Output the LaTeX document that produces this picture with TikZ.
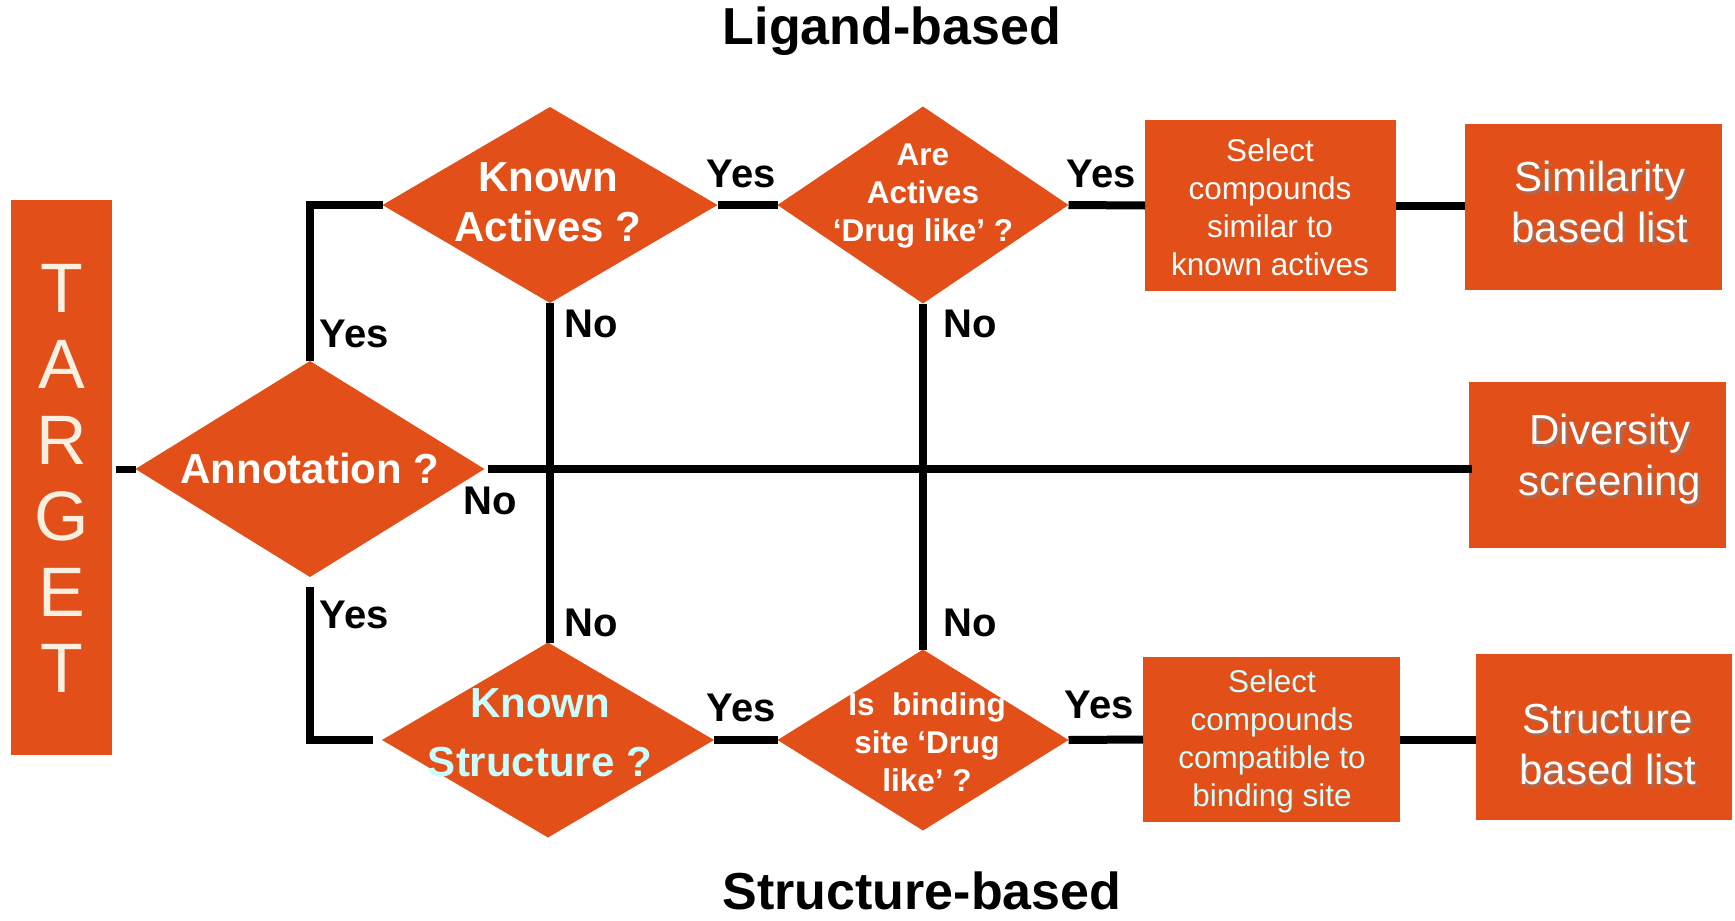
\documentclass[tikz,border=0pt]{standalone}
\usepackage{fontspec}
\setmainfont{Liberation Sans}
\usetikzlibrary{shapes.geometric}
\definecolor{flame}{RGB}{226,79,24}
\definecolor{cream}{RGB}{250,240,226}
\definecolor{icecyan}{RGB}{204,255,255}

\begin{document}
\begin{tikzpicture}[x=1pt,y=-1pt,
  box/.style={rectangle, fill=flame, draw=none, inner sep=0pt, outer sep=0pt},
  decision/.style={diamond, fill=flame, draw=none, inner sep=0pt, outer sep=0pt},
  conn/.style={line width=8pt, black},
  mainline/.style={line width=8.5pt, black},
  answer/.style={inner sep=0pt, font=\fontsize{40}{48}\selectfont\bfseries},
  title/.style={inner sep=0pt, font=\fontsize{52}{60}\selectfont\bfseries},
  bigq/.style={align=center, inner sep=0pt, text=white, font=\fontsize{42}{50}\selectfont\bfseries},
  smallq/.style={align=center, inner sep=0pt, text=white, font=\fontsize{31.5}{38}\selectfont\bfseries},
  steptext/.style={align=center, inner sep=0pt, text=white, font=\fontsize{31.5}{38}\selectfont},
  outtext/.style={align=center, inner sep=0pt, text=white, font=\fontsize{42}{51}\selectfont},
  outshadow/.style={align=center, inner sep=0pt, text=black!50, opacity=0.55, font=\fontsize{42}{51}\selectfont},
]
\useasboundingbox (0,0) rectangle (1735,921);

% titles
\node[title] (ligtitle) at (892,31) {Ligand-based};
\node[title] (strtitle) at (922,891) {Structure-based};

% target column
\node[box, minimum width=101, minimum height=555] (target) at (61.5,477.5) {};
\node[align=center, inner sep=0pt, text=cream, font=\fontsize{70}{76}\selectfont] (targettext) at (61.5,478) {T\\A\\R\\G\\E\\T};

% decisions
\node[decision, minimum width=349, minimum height=216] (annot) at (310,469) {};
\node[bigq] (annottext) at (310,468) {Annotation ?};

\node[decision, minimum width=335, minimum height=196] (ka) at (550,205) {};
\node[bigq] (katext) at (548,202) {Known\\Actives ?};

\node[decision, minimum width=291, minimum height=197] (ad) at (923,205) {};
\node[smallq] (adtext) at (923,196) {Are\\Actives\\‘Drug like’ ?};

\node[decision, minimum width=332, minimum height=195] (ks) at (548,740) {};
\node[bigq, text=icecyan, font=\fontsize{42}{59}\selectfont\bfseries] (kstext) at (540,733) {Known\\Structure ?};

\node[decision, minimum width=291, minimum height=181] (bd) at (923,740) {};
\node[smallq] (bdtext) at (927,742) {Is\ \ binding\\site ‘Drug\\like’ ?};

% action boxes
\node[box, minimum width=251, minimum height=171] (sel1) at (1270.5,205.5) {};
\node[steptext] (sel1text) at (1270,207) {Select\\compounds\\similar to\\known actives};

\node[box, minimum width=257, minimum height=165] (sel2) at (1271.5,739.5) {};
\node[steptext, text=icecyan] (sel2text) at (1272,741) {Select\\compounds\\compatible to\\binding site};

% outcome boxes
\node[box, minimum width=257, minimum height=166] (sim) at (1593.5,207) {};
\node[outshadow] (simshadow) at (1602.5,205) {Similarity\\based list};
\node[outtext] (simtext) at (1600,202) {Similarity\\based list};

\node[box, minimum width=257, minimum height=166] (div) at (1597.5,465) {};
\node[outshadow] (divshadow) at (1612.5,462) {Diversity\\screening};
\node[outtext] (divtext) at (1610,459) {Diversity\\screening};

\node[box, minimum width=256, minimum height=166] (sbl) at (1604,737) {};
\node[outshadow] (sblshadow) at (1610.5,748) {Structure\\based list};
\node[outtext] (sbltext) at (1608,745) {Structure\\based list};

% connectors
\draw[conn, line width=7pt] ([xshift=4pt]target.east |- annot.west) -- (annot.west);
\draw[conn] (annot.north) |- (ka.west);
\draw[conn] (ka.east) -- (ad.west);
\draw[conn] (ad.east) -- (sel1.west);
\draw[conn] (sel1.east) -- (sel1.east -| sim.west);
\draw[conn] (ka.south) -- (ka.south |- ks.north);
\draw[conn] (ad.south) -- (ad.south |- bd.north);
\draw[mainline] ([xshift=3pt]annot.east) -- ([xshift=3pt]annot.east -| div.west);
\draw[conn] ([yshift=-10pt]annot.south) |- ([xshift=-9pt]ks.west);
\draw[conn] (ks.east) -- (bd.west);
\draw[conn] (bd.east) -- (sel2.west);
\draw[conn] (sel2.east) -- (sel2.east -| sbl.west);

% branch labels
\node[answer] (yes1) at (354,334) {Yes};
\node[answer] (yes2) at (741,174) {Yes};
\node[answer] (yes3) at (1101,174) {Yes};
\node[answer] (no1) at (490,501) {No};
\node[answer] (no2) at (591,324) {No};
\node[answer] (no3) at (970,324) {No};
\node[answer] (no4) at (591,623) {No};
\node[answer] (no5) at (970,623) {No};
\node[answer] (yes4) at (354,615) {Yes};
\node[answer] (yes5) at (741,708) {Yes};
\node[answer] (yes6) at (1099,705) {Yes};
\end{tikzpicture}
\end{document}
